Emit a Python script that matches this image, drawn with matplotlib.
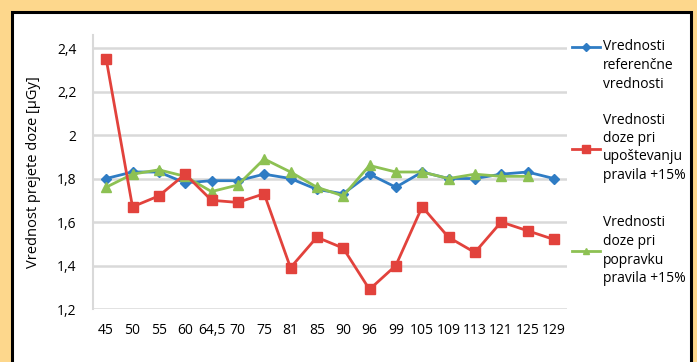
import matplotlib
matplotlib.use("Agg")
import matplotlib.pyplot as plt
from matplotlib.patches import Rectangle
from matplotlib.lines import Line2D
from matplotlib.ticker import FuncFormatter

plt.rcParams['font.family'] = ['Open Sans', 'DejaVu Sans']

# nazivna napetost / kategorije na osi x
categories = ["45", "50", "55", "60", "64,5", "70", "75", "81", "85", "90",
              "96", "99", "105", "109", "113", "121", "125", "129"]

referencne = [1.80, 1.83, 1.83, 1.78, 1.79, 1.79, 1.82, 1.80, 1.75, 1.73,
              1.82, 1.76, 1.83, 1.80, 1.80, 1.82, 1.83, 1.80]
upostevanje = [2.35, 1.67, 1.72, 1.82, 1.70, 1.69, 1.73, 1.39, 1.53, 1.48,
               1.29, 1.40, 1.67, 1.53, 1.46, 1.60, 1.56, 1.52]
popravek = [1.76, 1.82, 1.84, 1.81, 1.74, 1.77, 1.89, 1.83, 1.76, 1.72,
            1.86, 1.83, 1.83, 1.80, 1.82, 1.81, 1.81]

yticks = [1.2, 1.4, 1.6, 1.8, 2.0, 2.2, 2.4]

BLUE = "#2f7cc4"
RED = "#e2423c"
GREEN = "#8dc153"

W, H = 697, 362
fig = plt.figure(figsize=(W / 100, H / 100), dpi=100)
fig.patch.set_facecolor("#fdd78c")

# bel okvir s črno obrobo
fig.patches.append(Rectangle((12 / W, -0.05), (691 - 12) / W, 1.05 - 12 / H,
                             transform=fig.transFigure, facecolor="white",
                             edgecolor="black", linewidth=2.2, zorder=-5))

ax = fig.add_axes([93 / W, (H - 309) / H, (567 - 93) / W, (309 - 35) / H])
ax.set_zorder(2)
ax.set_facecolor("none")

x = list(range(len(categories)))
ax.plot(x, referencne, color=BLUE, lw=2, marker="D", ms=5, zorder=3)
ax.plot(x, upostevanje, color=RED, lw=2, marker="s", ms=7.5, zorder=4)
ax.plot(x[:len(popravek)], popravek, color=GREEN, lw=2, marker="^", ms=7, zorder=3)

ax.set_xlim(-0.5, len(categories) - 0.5)
ax.set_ylim(1.2, 2.46)
ax.set_yticks(yticks)
ax.yaxis.set_major_formatter(FuncFormatter(lambda v, p: f"{v:g}".replace(".", ",")))
ax.set_xticks(x)
ax.set_xticklabels(categories)
ax.tick_params(axis="both", length=0, labelsize=10)
ax.tick_params(axis="y", pad=12)
ax.tick_params(axis="x", pad=10)
ax.grid(axis="y", color="#d9d9d9", lw=1.8)
ax.set_axisbelow(True)
for s in ["top", "right", "bottom"]:
    ax.spines[s].set_visible(False)
ax.spines["left"].set_color("#d9d9d9")
ax.spines["left"].set_linewidth(1.5)

ax.set_ylabel("Vrednost prejete doze [μGy]", fontsize=10.5, labelpad=11)

# legenda desno od grafa
legend = [
    (BLUE, "D", 4, 47, ["Vrednosti", "referenčne", "vrednosti"], 47),
    (RED, "s", 6, 149, ["Vrednosti", "doze pri", "upoštevanju", "pravila +15%"], 120),
    (GREEN, "^", 5, 251, ["Vrednosti", "doze pri", "popravku", "pravila +15%"], 223),
]
for color, mk, ms, ym, lines, ytop in legend:
    fig.add_artist(Line2D([572 / W, 600 / W], [(H - ym) / H] * 2, color=color,
                          lw=2, transform=fig.transFigure))
    fig.add_artist(Line2D([586 / W], [(H - ym) / H], color=color, marker=mk,
                          ms=ms, transform=fig.transFigure))
    for i, t in enumerate(lines):
        fig.text(603 / W, (H - (ytop + i * 18.5)) / H, t, fontsize=10,
                 va="center", ha="left")

fig.savefig("out.png", dpi=100, facecolor=fig.get_facecolor())
